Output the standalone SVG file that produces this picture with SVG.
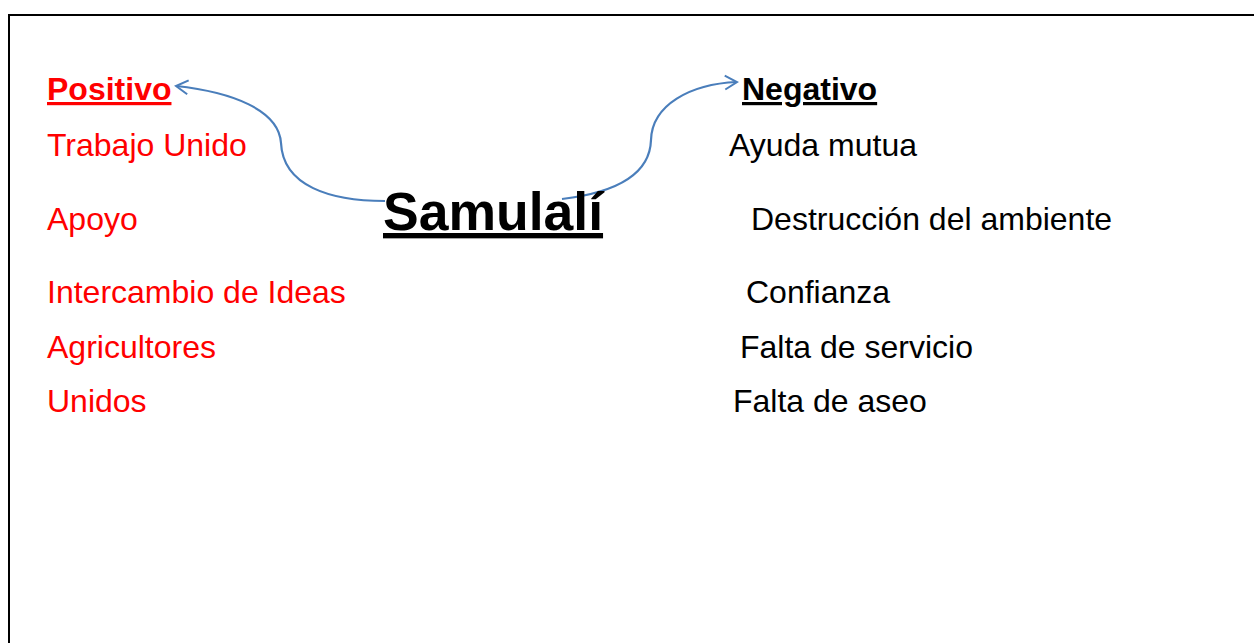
<svg xmlns="http://www.w3.org/2000/svg" width="1254" height="643" viewBox="0 0 1254 643">
<style>
.t{font-family:"Liberation Sans",Arial,sans-serif;font-size:32px}
.r{fill:#ff0000}
.k{fill:#000}
.b{font-weight:bold;text-decoration:underline}
.c{fill:none;stroke:#4a7ebb;stroke-width:2.2}
</style>
<defs>
<marker id="ah" markerWidth="18" markerHeight="18" refX="14" refY="9" orient="auto" markerUnits="userSpaceOnUse">
<path d="M2,2 L14,9 L2,16" fill="none" stroke="#4a7ebb" stroke-width="2"/>
</marker>
</defs>
<rect width="1254" height="643" fill="#fff"/>
<path d="M9,643 V15 H1254" fill="none" stroke="#000" stroke-width="2"/>
<g id="connectors">
<path class="c" d="M385,201 C330,201 283,186 281,143 C279,110 232,92 176,86" marker-end="url(#ah)"/>
<path class="c" d="M562,199 C620,192 650,172 651,140 C652,105 690,84 737,82" marker-end="url(#ah)"/>
</g>
<g id="samulali"><text x="383" y="230" font-family="Liberation Sans,Arial,sans-serif" font-size="53.5" font-weight="bold" text-decoration="underline">Samulalí</text></g>
<g id="positivo"><text class="t r b" x="47" y="100">Positivo</text></g>
<g id="negativo"><text class="t k b" x="742" y="100">Negativo</text></g>
<g id="pos-items">
<text class="t r" x="47" y="156">Trabajo Unido</text>
<text class="t r" x="47" y="230">Apoyo</text>
<text class="t r" x="47" y="303">Intercambio de Ideas</text>
<text class="t r" x="47" y="358">Agricultores</text>
<text class="t r" x="47" y="412">Unidos</text>
</g>
<g id="neg-items">
<text class="t k" x="729" y="156">Ayuda mutua</text>
<text class="t k" x="751" y="230">Destrucción del ambiente</text>
<text class="t k" x="746" y="303">Confianza</text>
<text class="t k" x="740" y="358">Falta de servicio</text>
<text class="t k" x="733" y="412">Falta de aseo</text>
</g>
</svg>
